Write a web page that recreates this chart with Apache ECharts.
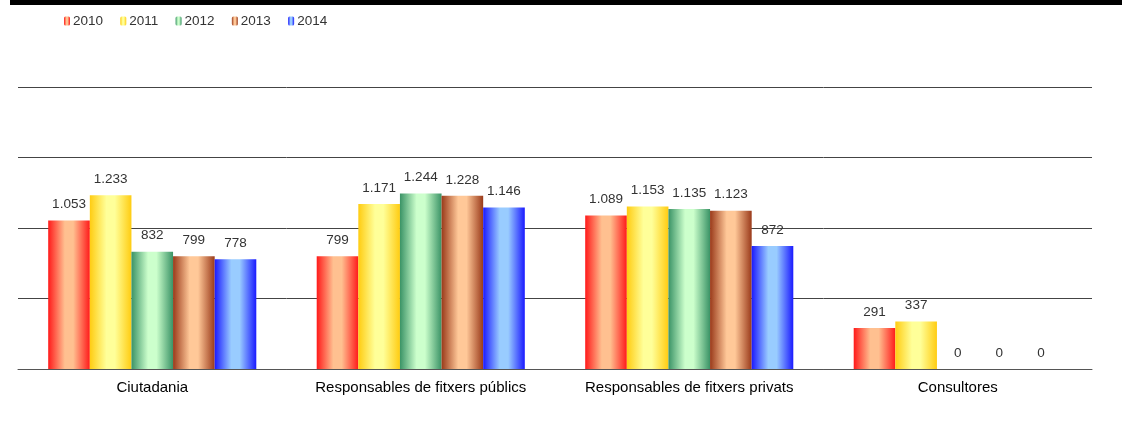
<!DOCTYPE html>
<html><head><meta charset="utf-8">
<script src="https://cdn.jsdelivr.net/npm/echarts@6/dist/echarts.min.js"></script>
<style>html,body{margin:0;padding:0;background:#fff}#c{width:1122px;height:437px}</style>
</head><body><div id="c"></div>
<script>
const categories = ['Ciutadania', 'Responsables de fitxers públics', 'Responsables de fitxers privats', 'Consultores'];
const years = ['2010', '2011', '2012', '2013', '2014'];
const v2010 = [1053, 799, 1089, 291];
const v2011 = [1233, 1171, 1153, 337];
const v2012 = [832, 1244, 1135, 0];
const v2013 = [799, 1228, 1123, 0];
const v2014 = [778, 1146, 872, 0];
const values = [v2010, v2011, v2012, v2013, v2014];
const colorPairs = [
  ['#ff1a1a', '#ffc090'],
  ['#ffcc11', '#ffff99'],
  ['#3a9366', '#ccffcc'],
  ['#9a3a1a', '#ffc898'],
  ['#1a1aff', '#99ccff']
];
function grad(p) {
  return new echarts.graphic.LinearGradient(0, 0, 1, 0, [
    {offset: 0, color: p[0]}, {offset: 0.4, color: p[1]}, {offset: 0.6, color: p[1]}, {offset: 1, color: p[0]}
  ]);
}
function fmt(n) { return String(n).replace(/\B(?=(\d{3})+(?!\d))/g, '.'); }
const chart = echarts.init(document.getElementById('c'));
chart.setOption({
  animation: false,
  graphic: [{type: 'rect', shape: {x: 10, y: 0, width: 1112, height: 5}, style: {fill: '#000'}}],
  legend: {
    left: 59, top: 9, itemWidth: 6, itemHeight: 9, itemGap: 17.25,
    textStyle: {fontFamily: 'Liberation Sans', fontSize: 13.5, color: '#333', padding: [0,0,0,-2]},
    data: years
  },
  grid: {left: 18, right: 30, top: 87, bottom: 68},
  xAxis: {
    type: 'category', data: categories,
    axisLine: {lineStyle: {color: '#555', width: 1}}, axisTick: {show: false},
    axisLabel: {interval: 0, fontFamily: 'Liberation Sans', fontSize: 15, color: '#000', margin: 11}
  },
  yAxis: {
    type: 'value', min: 0, max: 2000, interval: 500,
    axisLabel: {show: false}, axisLine: {show: false}, axisTick: {show: false},
    splitLine: {lineStyle: {color: '#444', width: 1}}
  },
  series: years.map((y, i) => ({
    name: y, type: 'bar', data: values[i],
    barGap: '0%', barCategoryGap: '22.5%',
    itemStyle: {color: grad(colorPairs[i])},
    label: {show: true, position: 'top', distance: 9, formatter: p => fmt(p.value),
      fontFamily: 'Liberation Sans', fontSize: 13.5, color: '#333'}
  }))
});
</script></body></html>
